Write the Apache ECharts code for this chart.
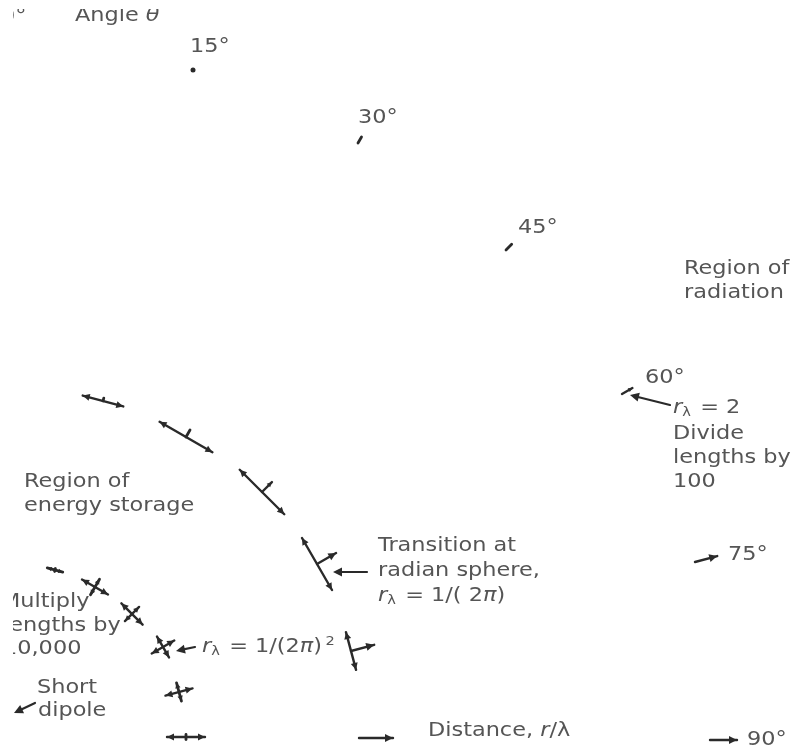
<!DOCTYPE html>
<html>
<head>
<meta charset="utf-8">
<title>Dipole power flow</title>
<script src="https://cdn.jsdelivr.net/npm/echarts@6/dist/echarts.min.js"></script>
<style>
    html, body { margin: 0; padding: 0; background: #fff; }
    #fieldChart { width: 798px; height: 753px; }
</style>
</head>
<body>
<div id="fieldChart"></div>
<script>
    // angle theta of every glyph on a ring
    var ringAngle = [15, 30, 45, 60, 75, 90];

    // inner ring, r = 1/(2pi)^2 : reactive flow, tangential + radial (double headed)
    var innerX = [55, 95, 132, 163, 179, 186];
    var innerY = [570, 587, 614, 647, 692, 737];
    var innerTang = [16, 30, 30, 24, 19, 5];
    var innerRad = [3, 18, 20, 26, 28, 38];

    // middle ring, r = 1/(2pi) : tangential reactive + outward real flow
    var middleX = [103, 186, 262, 317, 351, 359];
    var middleY = [401, 437, 492, 564, 651, 738];
    var middleTang = [42, 61, 63, 60, 39, 0];
    var middleOut = [3, 8, 14, 22, 24, 34];

    // outer ring, r = 2 : outward flow only
    var outerX = [193, 358, 506, 622, 695, 710];
    var outerY = [70, 143, 250, 394, 562, 740];
    var outerOut = [0, 7, 8, 12, 23, 27];

    // pointer arrows [fromX, fromY, toX, toY]
    var pointers = [
        [670, 405, 630, 395],
        [367, 572, 333, 572],
        [195, 647, 176, 651],
        [35, 703, 14, 713]
    ];

    var labelText = [
        '0°', 'Angle {i|θ}', '15°', '30°', '45°',
        'Region of', 'radiation', '60°', '{i|r}{s|λ} = 2', 'Divide', 'lengths by', '100',
        'Region of', 'energy storage',
        'Transition at', 'radian sphere,', '{i|r}{s|λ} = 1/( 2{i|π})',
        '75°', 'Multiply', 'lengths by', '10,000', '{i|r}{s|λ} = 1/(2{i|π}){p|2}',
        'Short', 'dipole', 'Distance, {i|r}/λ', '90°'
    ];
    var labelX = [1, 75, 190, 358, 518, 684, 684, 645, 673, 673, 673, 673, 24, 24,
        378, 378, 378, 728, 1, 3, 3, 202, 37, 38, 428, 747];
    var labelY = [17, 16, 47, 118, 228, 269, 293, 378, 408, 434, 458, 482, 482, 506,
        546, 571, 596, 555, 602, 626, 649, 647, 688, 711, 731, 740];

    var ink = '#2a2a2a';
    var textColor = '#555';
    var fontName = 'DejaVu Sans';

    var glyphData = [];
    for (var i = 0; i < ringAngle.length; i++) {
        glyphData.push([innerX[i], innerY[i], ringAngle[i], innerTang[i], innerRad[i], 0]);
        glyphData.push([middleX[i], middleY[i], ringAngle[i], middleTang[i], 0, middleOut[i]]);
        glyphData.push([outerX[i], outerY[i], ringAngle[i], 0, 0, outerOut[i]]);
    }

    var labelData = [];
    for (var k = 0; k < labelText.length; k++) {
        labelData.push([labelX[k], labelY[k]]);
    }

    function head(px, py, dx, dy, h) {
        var w = h * 0.5;
        return {
            type: 'polygon',
            shape: {
                points: [
                    [px, py],
                    [px - dx * h - dy * w, py - dy * h + dx * w],
                    [px - dx * h + dy * w, py - dy * h - dx * w]
                ]
            },
            style: { fill: ink }
        };
    }

    function stroke(x1, y1, x2, y2, lw) {
        return {
            type: 'line',
            shape: { x1: x1, y1: y1, x2: x2, y2: y2 },
            style: { stroke: ink, lineWidth: lw || 2.4, lineCap: 'round' }
        };
    }

    // double headed segment centred on (cx, cy)
    function swing(list, cx, cy, dx, dy, len) {
        if (len <= 0) return;
        var hx = dx * len / 2, hy = dy * len / 2;
        list.push(stroke(cx - hx, cy - hy, cx + hx, cy + hy, len < 20 ? 2.8 : 2.4));
        if (len >= 8) {
            var h = Math.min(7, len * 0.28);
            list.push(head(cx + hx, cy + hy, dx, dy, h));
            list.push(head(cx - hx, cy - hy, -dx, -dy, h));
        }
    }

    function renderGlyph(params, api) {
        var c = api.coord([api.value(0), api.value(1)]);
        var th = api.value(2) * Math.PI / 180;
        var px = api.size([1, 1]);
        var tang = api.value(3) * px[0];
        var rad = api.value(4) * px[0];
        var out = api.value(5) * px[0];
        // radial (outward) and tangential unit vectors on screen
        var ux = Math.sin(th), uy = -Math.cos(th);
        var tx = Math.cos(th), ty = Math.sin(th);
        var children = [];
        if (tang === 0 && rad === 0 && out === 0) {
            children.push({ type: 'circle', shape: { cx: c[0], cy: c[1], r: 2.5 }, style: { fill: ink } });
        }
        swing(children, c[0], c[1], tx, ty, tang);
        swing(children, c[0], c[1], ux, uy, rad);
        if (out > 0) {
            var ex = c[0] + ux * out, ey = c[1] + uy * out;
            children.push(stroke(c[0], c[1], ex, ey, out < 10 ? 2.8 : 2.4));
            if (out >= 10) {
                children.push(head(ex, ey, ux, uy, Math.min(8, out * 0.35)));
            }
        }
        return { type: 'group', children: children };
    }

    function renderPointer(params, api) {
        var a = api.coord([api.value(0), api.value(1)]);
        var b = api.coord([api.value(2), api.value(3)]);
        var dx = b[0] - a[0], dy = b[1] - a[1];
        var l = Math.sqrt(dx * dx + dy * dy);
        dx /= l; dy /= l;
        return {
            type: 'group',
            children: [
                stroke(a[0], a[1], b[0] - dx * 4, b[1] - dy * 4, 2.2),
                head(b[0], b[1], dx, dy, 9)
            ]
        };
    }

    function renderLabel(params, api) {
        var p = api.coord([api.value(0), api.value(1)]);
        return {
            type: 'text',
            x: p[0],
            y: p[1],
            scaleX: 1.12,
            style: {
                text: labelText[params.dataIndex],
                fontFamily: fontName,
                fontSize: 20,
                fill: textColor,
                verticalAlign: 'middle',
                align: 'left',
                rich: {
                    i: { fontFamily: fontName, fontSize: 20, fill: textColor, fontStyle: 'italic' },
                    s: { fontFamily: fontName, fontSize: 13, fill: textColor, verticalAlign: 'bottom', padding: [10, 2, 0, 0] },
                    p: { fontFamily: fontName, fontSize: 13, fill: textColor, verticalAlign: 'top', padding: [0, 0, 8, 3] }
                }
            }
        };
    }

    var fieldChart = echarts.init(document.getElementById('fieldChart'));

    var option = {
        backgroundColor: '#fff',
        animation: false,
        grid: { left: 13, top: 9, right: 0, bottom: 0 },
        xAxis: { type: 'value', min: 13, max: 798, show: false },
        yAxis: { type: 'value', min: 9, max: 753, inverse: true, show: false },
        series: [
            { type: 'custom', clip: true, renderItem: renderGlyph, data: glyphData },
            { type: 'custom', clip: true, renderItem: renderPointer, data: pointers },
            { type: 'custom', clip: true, renderItem: renderLabel, data: labelData }
        ]
    };

    fieldChart.setOption(option);

    window.onresize = function () {
        fieldChart.resize();
    };
</script>
</body>
</html>
